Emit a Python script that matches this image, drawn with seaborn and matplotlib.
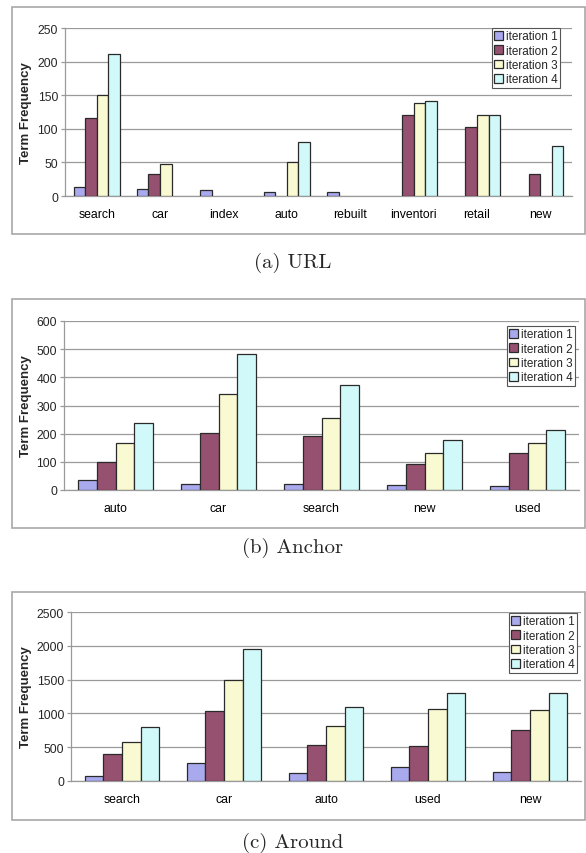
import numpy as np
import pandas as pd
import matplotlib.pyplot as plt
from matplotlib.patches import Rectangle
import seaborn as sns

sns.set_theme(style="white")
plt.rcParams['font.family'] = ['Liberation Sans', 'DejaVu Sans']

# Data
iterations = ['iteration 1', 'iteration 2', 'iteration 3', 'iteration 4']
colors = ['#9D9DFA', '#A3456F', '#FFFFCC', '#CCFFFF']

url_terms = ['search', 'car', 'index', 'auto', 'rebuilt', 'inventori', 'retail', 'new']
url_it1 = [13, 11, 9, 6, 6, None, None, None]
url_it2 = [116, 33, None, None, None, 121, 103, 33]
url_it3 = [151, 48, None, 50, None, 138, 120, None]
url_it4 = [212, None, None, 81, None, 141, 121, 74]

anchor_terms = ['auto', 'car', 'search', 'new', 'used']
anchor_it1 = [35, 22, 20, 18, 15]
anchor_it2 = [98, 202, 190, 92, 130]
anchor_it3 = [168, 340, 255, 132, 168]
anchor_it4 = [239, 482, 372, 179, 214]

around_terms = ['search', 'car', 'auto', 'used', 'new']
around_it1 = [80, 260, 125, 210, 135]
around_it2 = [395, 1035, 530, 525, 760]
around_it3 = [580, 1500, 810, 1060, 1050]
around_it4 = [805, 1955, 1100, 1300, 1305]

captions = ['(a) URL', '(b) Anchor', '(c) Around']

W, H = 586, 854
fig = plt.figure(figsize=(W / 100, H / 100), dpi=100)


def to_frame(terms, series):
    rows = []
    for name, vals in zip(iterations, series):
        for t, v in zip(terms, vals):
            if v is not None:
                rows.append({'term': t, 'iteration': name, 'value': v})
    return pd.DataFrame(rows)


def panel(terms, series, ymax, ystep, axes_px, box_px, legend_px, caption, cap_y):
    left, right, top, bottom = axes_px
    ax = fig.add_axes([left / W, 1 - bottom / H, (right - left) / W, (bottom - top) / H])
    df = to_frame(terms, series)
    sns.barplot(data=df, x='term', y='value', hue='iteration', order=terms,
                hue_order=iterations, palette=colors, errorbar=None, width=0.73,
                edgecolor='#2a2a2a', linewidth=0.9, ax=ax, zorder=3)
    ax.set_ylim(0, ymax)
    ax.set_yticks(np.arange(0, ymax + 1, ystep))
    ax.set_xlim(-0.5, len(terms) - 0.5)
    ax.set_xlabel('')
    ax.set_ylabel('Term Frequency', fontsize=9.5, fontweight='bold')
    ax.yaxis.set_label_coords((32 - left) / (right - left), 0.5)
    ax.grid(axis='y', color='#9a9a9a', linewidth=0.9, zorder=0)
    ax.set_axisbelow(True)
    for s in ['top', 'right']:
        ax.spines[s].set_visible(False)
    for s in ['left', 'bottom']:
        ax.spines[s].set_color('#9a9a9a')
        ax.spines[s].set_linewidth(0.9)
    ax.set_xticks(np.arange(len(terms) + 1) - 0.5, minor=True)
    ax.tick_params(axis='x', which='major', length=0, labelsize=8.8, pad=9, colors='black')
    ax.tick_params(axis='x', which='minor', length=4, width=0.9, color='#9a9a9a', direction='out')
    ax.tick_params(axis='y', length=3, width=0.9, color='#9a9a9a', labelsize=8.8, pad=2,
                   left=True, direction='out')
    lx, ly = legend_px
    ax.legend(loc='upper left', bbox_to_anchor=(lx / W, 1 - ly / H),
              bbox_transform=fig.transFigure, fontsize=8.5, frameon=True,
              fancybox=False, edgecolor='#555555', framealpha=1, borderpad=0.2,
              handlelength=0.7, handleheight=0.75, handletextpad=0.25,
              labelspacing=0.2, borderaxespad=0)
    ax.get_legend().get_frame().set_linewidth(0.8)
    bx0, bx1, by0, by1 = box_px
    fig.add_artist(Rectangle((bx0 / W, 1 - by1 / H), (bx1 - bx0) / W, (by1 - by0) / H,
                             transform=fig.transFigure, fill=False,
                             edgecolor='#a8a8a8', linewidth=1.2))
    fig.text(0.5, 1 - cap_y / H, caption, family='cmr10', fontsize=15,
             ha='center', va='center')


panel(url_terms, [url_it1, url_it2, url_it3, url_it4], 250, 50,
      (65, 572, 29, 197), (12, 585, 8, 235), (492, 29), captions[0], 263)
panel(anchor_terms, [anchor_it1, anchor_it2, anchor_it3, anchor_it4], 600, 100,
      (64, 579, 322, 491), (12, 585, 300, 529), (507, 327), captions[1], 548)
panel(around_terms, [around_it1, around_it2, around_it3, around_it4], 2500, 500,
      (71, 581, 613, 782), (12, 585, 593, 821), (509, 614), captions[2], 843)

plt.savefig('out.png', dpi=100)
